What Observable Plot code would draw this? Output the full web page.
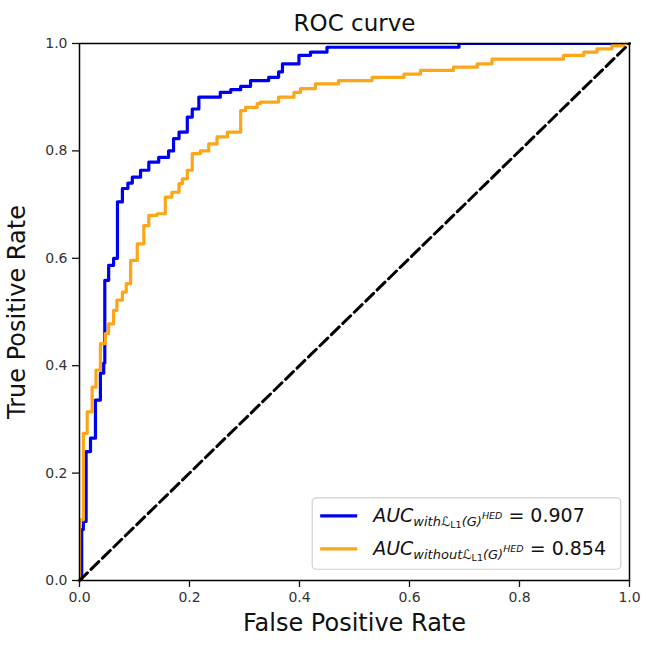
<!DOCTYPE html>
<html>
<head>
<meta charset="utf-8">
<script src="https://cdn.jsdelivr.net/npm/d3@7"></script>
<script src="https://cdn.jsdelivr.net/npm/@observablehq/plot@0.6"></script>
<style>
  html, body { margin: 0; padding: 0; background: white; }
</style>
</head>
<body>
<div id="chart"></div>
<script>
// ---- Data ----
const withFPR = [0, 0.004, 0.007, 0.012, 0.020, 0.029, 0.038, 0.044, 0.046, 0.053, 0.062, 0.069, 0.078, 0.088, 0.096, 0.111, 0.126, 0.144, 0.162, 0.171, 0.181, 0.196, 0.205, 0.217, 0.256, 0.275, 0.293, 0.311, 0.344, 0.362, 0.369, 0.399, 0.420, 0.450, 0.690, 1.0];
const withTPR = [0, 0.095, 0.110, 0.240, 0.265, 0.336, 0.386, 0.405, 0.559, 0.587, 0.600, 0.705, 0.730, 0.740, 0.751, 0.764, 0.779, 0.788, 0.800, 0.823, 0.835, 0.863, 0.878, 0.900, 0.909, 0.914, 0.920, 0.931, 0.937, 0.947, 0.962, 0.978, 0.984, 0.993, 1.0, 1.0];

const withoutFPR = [0, 0, 0.007, 0.014, 0.023, 0.030, 0.038, 0.047, 0.053, 0.062, 0.068, 0.078, 0.085, 0.093, 0.105, 0.117, 0.126, 0.141, 0.156, 0.168, 0.181, 0.187, 0.196, 0.205, 0.220, 0.235, 0.250, 0.269, 0.293, 0.302, 0.323, 0.329, 0.362, 0.390, 0.402, 0.429, 0.471, 0.532, 0.590, 0.620, 0.680, 0.723, 0.750, 0.880, 0.917, 0.941, 0.968, 0.990, 1.0];
const withoutTPR = [0, 0.113, 0.274, 0.314, 0.360, 0.392, 0.441, 0.460, 0.478, 0.503, 0.522, 0.537, 0.553, 0.596, 0.627, 0.661, 0.680, 0.683, 0.714, 0.723, 0.739, 0.748, 0.764, 0.795, 0.800, 0.813, 0.826, 0.835, 0.875, 0.881, 0.888, 0.891, 0.900, 0.909, 0.916, 0.925, 0.931, 0.937, 0.943, 0.950, 0.956, 0.962, 0.971, 0.978, 0.984, 0.990, 0.996, 1.0, 1.0];

const chanceX = [0, 1];
const chanceY = [0, 1];

const xTicks = [0, 0.2, 0.4, 0.6, 0.8, 1.0];
const yTicks = [0, 0.2, 0.4, 0.6, 0.8, 1.0];

const titleText = "ROC curve";
const xLabel = "False Positive Rate";
const yLabel = "True Positive Rate";
const aucValues = ["0.907", "0.854"];
const seriesNames = ["with", "without"];
const seriesColors = ["#0000f0", "#fca516"];

const fmt = d3.format(".1f");

const chart = Plot.plot({
  width: 646,
  height: 646,
  marginLeft: 79,
  marginRight: 17,
  marginTop: 43,
  marginBottom: 66,
  style: { fontFamily: "DejaVu Sans", fontSize: "14px", color: "#111", background: "white" },
  x: { domain: [0, 1] },
  y: { domain: [0, 1] },
  marks: [
    Plot.line(withFPR, { x: withFPR, y: withTPR, curve: "step-after", stroke: seriesColors[0], strokeWidth: 3.2, clip: true }),
    Plot.line(withoutFPR, { x: withoutFPR, y: withoutTPR, curve: "step-after", stroke: seriesColors[1], strokeWidth: 3.2, clip: true }),
    Plot.line(chanceX, { x: chanceX, y: chanceY, stroke: "black", strokeWidth: 3, strokeDasharray: "11,5" }),
    Plot.frame({ stroke: "black", strokeWidth: 1.5 }),
    Plot.axisX({ ticks: xTicks, tickFormat: fmt, tickSize: 7, tickPadding: 5, strokeWidth: 1.3, fontSize: 14, fill: "#333", label: null }),
    Plot.axisY({ ticks: yTicks, tickFormat: fmt, tickSize: 7, tickPadding: 5, strokeWidth: 1.3, fontSize: 14, fill: "#333", label: null }),
    Plot.text([titleText], { frameAnchor: "top", dy: -29, fontSize: 23, fill: "#111" }),
    Plot.text([xLabel], { frameAnchor: "bottom", dy: 50, fontSize: 24, fill: "#111" }),
    Plot.text([yLabel], { frameAnchor: "left", textAnchor: "middle", dx: -62, rotate: -90, fontSize: 24, fill: "#111" })
  ]
});

// ---- Legend (with math-style sub/superscripts) ----
const svg = d3.select(chart);
const xs = chart.scale("x"), ys = chart.scale("y");
const lx = xs.apply(0.424), ly = ys.apply(0.153);
const lw = xs.apply(0.985) - lx, lh = ys.apply(0.02) - ly;
const g = svg.append("g").attr("font-family", "DejaVu Sans").attr("fill", "#111").attr("text-anchor", "start");
g.append("rect").attr("x", lx).attr("y", ly).attr("width", lw).attr("height", lh)
  .attr("rx", 4).attr("fill", "white").attr("fill-opacity", 0.8)
  .attr("stroke", "#d0d0d0").attr("stroke-width", 1.2);

seriesNames.forEach((name, i) => {
  const yLine = ly + 18 + i * 33;
  g.append("line").attr("x1", lx + 8).attr("x2", lx + 45)
    .attr("y1", yLine).attr("y2", yLine)
    .attr("stroke", seriesColors[i]).attr("stroke-width", 3.2);
  const t = g.append("text").attr("x", lx + 61).attr("y", yLine + 6.5).attr("font-size", 19).attr("text-anchor", "start");
  t.append("tspan").attr("font-style", "italic").text("AUC");
  t.append("tspan").attr("font-style", "italic").attr("font-size", 13).attr("dy", 3.5).text(name);
  t.append("tspan").attr("font-size", 13).text("\u2112");
  t.append("tspan").attr("font-size", 9.5).attr("dy", 2.5).text("L1");
  t.append("tspan").attr("font-style", "italic").attr("font-size", 13).attr("dy", -2.5).text("(G)");
  t.append("tspan").attr("font-style", "italic").attr("font-size", 9.5).attr("dy", -7).text("HED");
  t.append("tspan").attr("dy", 3.5).text(" = " + aucValues[i]);
});

document.getElementById("chart").appendChild(chart);
</script>
</body>
</html>
